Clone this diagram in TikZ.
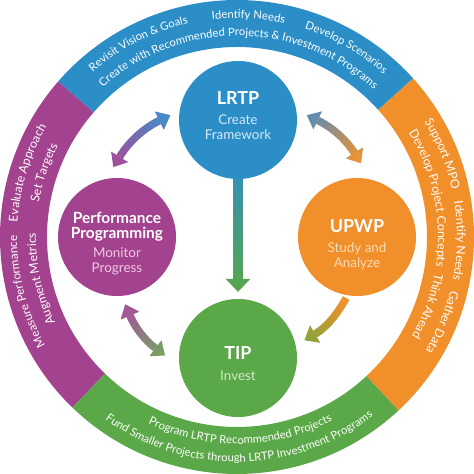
\documentclass[tikz,border=0pt]{standalone}
\usepackage{fontspec}
\setmainfont{Lato}
\setsansfont{Lato}
\usetikzlibrary{arrows.meta,decorations.text,fadings,calc}

\definecolor{blueC}{RGB}{43,142,198}
\definecolor{orangeC}{RGB}{241,143,42}
\definecolor{greenC}{RGB}{90,168,71}
\definecolor{magC}{RGB}{163,66,143}
\definecolor{createC}{RGB}{214,234,246}
\definecolor{monitorC}{RGB}{240,200,228}
\definecolor{studyC}{RGB}{252,221,180}
\definecolor{investC}{RGB}{210,232,200}
\definecolor{ulA}{RGB}{160,80,155}
\definecolor{ulB}{RGB}{70,140,200}
\definecolor{urA}{RGB}{100,140,175}
\definecolor{urB}{RGB}{236,148,50}
\definecolor{lrA}{RGB}{240,145,45}
\definecolor{lrB}{RGB}{140,165,60}
\definecolor{llA}{RGB}{120,160,100}
\definecolor{llB}{RGB}{165,85,155}
\definecolor{stemA}{RGB}{55,145,180}
\definecolor{stemB}{RGB}{90,168,71}

\def\rsize{11}
\newcommand\ringfnt{\fontsize{\rsize}{13}\selectfont}
\newcommand\ringcw[4]{\path[decorate, decoration={text along path, text align=center, text color=white, text={|\ringfnt|#4}}]
  ([shift={({#1+#3}:#2)}]hub) arc[start angle={#1+#3}, end angle={#1-#3}, radius=#2];}
\newcommand\ringccw[4]{\path[decorate, decoration={text along path, text align=center, text color=white, text={|\ringfnt|#4}}]
  ([shift={({#1-#3}:#2)}]hub) arc[start angle={#1-#3}, end angle={#1+#3}, radius=#2];}
\newcommand\ringseg[3]{\fill[#3] ([shift={(#1:237)}]hub) arc[start angle=#1, end angle=#2, radius=237]
  -- ([shift={(#2:190)}]hub) arc[start angle=#2, end angle=#1, radius=190] -- cycle;}
\newcommand\gconn[4]{\draw[#1] #4; \draw[#2, path fading=east, fading angle=#3] #4;}

\tikzset{
  hubcircle/.style={circle, minimum size=118bp, inner sep=0pt},
  title/.style={anchor=base, text=white, font=\fontsize{18}{20}\selectfont\bfseries, inner sep=0pt},
  ptitle/.style={anchor=base, text=white, font=\fontsize{15.5}{17}\selectfont\bfseries, inner sep=0pt},
  sub/.style={anchor=base, font=\fontsize{13.5}{15}\selectfont, inner sep=0pt},
  conn/.style={line width=7.5bp, {Triangle[width=20bp,length=12bp,line width=0pt]}-{Triangle[width=20bp,length=12bp,line width=0pt]}},
  conn1/.style={line width=7.5bp, -{Triangle[width=20bp,length=12bp,line width=0pt]}},
  stem/.style={line width=10bp, -{Triangle[width=25bp,length=13bp,line width=0pt]}},
}

\begin{document}
\begin{tikzpicture}[x=1bp,y=1bp]
\useasboundingbox (-237,-237) rectangle (237,237);
\coordinate (hub) at (0,0);

% ring
\ringseg{42}{139}{blueC}
\ringseg{139}{226}{magC}
\ringseg{226}{313}{greenC}
\ringseg{313}{402}{orangeC}

% ring texts: top
\def\rsize{11.3}
\ringcw{117}{219}{25}{Revisit Vision {\&} Goals}
\ringcw{87}{219}{18}{Identify Needs}
\ringcw{60}{219}{22}{Develop Scenarios}
\ringcw{89.5}{201}{60}{Create with Recommended Projects {\&} Investment Programs}
% right
\def\rsize{12.2}
\ringcw{22}{220}{20}{Support MPO}
\ringcw{-1}{220}{22}{Identify Needs}
\ringcw{-22.5}{220}{20}{Gather Data}
\ringcw{11.5}{201}{30}{Develop Project Concepts}
\ringcw{-20}{201}{20}{Think Ahead}
% left
\ringcw{163}{220}{25}{Evaluate Approach}
\ringcw{161.5}{201}{20}{Set Targets}
\ringcw{192}{201}{24}{Augment Metrics}
\def\rsize{11.8}
\ringcw{194.5}{220}{28}{Measure Performance}
% bottom
\def\rsize{11.3}
\ringccw{271}{207}{40}{Program LRTP Recommended Projects}
\ringccw{270.7}{225}{50}{Fund Smaller Projects through LRTP Investment Programs}

% circles
\node[hubcircle, fill=blueC] (lrtp) at (1,117) {};
\node[hubcircle, fill=magC] (perf) at (-120,0) {};
\node[hubcircle, fill=orangeC] (upwp) at (120,0) {};
\node[hubcircle, fill=greenC] (tip) at (1,-121) {};

% texts
\node[title] (lrtpT) at ($(lrtp)+(0,15)$) {LRTP};
\node[sub, text=createC] (lrtpS1) at ($(lrtp)+(0,-5)$) {Create};
\node[sub, text=createC] (lrtpS2) at ($(lrtp)+(0,-20)$) {Framework};
\node[ptitle] (perfT1) at ($(perf)+(0,13)$) {Performance};
\node[ptitle] (perfT2) at ($(perf)+(0,-2)$) {Programming};
\node[sub, text=monitorC] (perfS1) at ($(perf)+(0,-21)$) {Monitor};
\node[sub, text=monitorC] (perfS2) at ($(perf)+(0,-36)$) {Progress};
\node[title] (upwpT) at ($(upwp)+(0,4)$) {UPWP};
\node[sub, text=studyC] (upwpS1) at ($(upwp)+(0,-16)$) {Study and};
\node[sub, text=studyC] (upwpS2) at ($(upwp)+(0,-31)$) {Analyze};
\node[title] (tipT) at ($(tip)+(0,-2)$) {TIP};
\node[sub, text=investC] (tipS) at ($(tip)+(0,-22)$) {Invest};

% connectors
\gconn{conn, draw=ulA}{conn, draw=ulB}{222}{($(perf)+(93:70)$) to[bend left=16] ($(lrtp)+(176:68)$)}
\gconn{conn, draw=urA}{conn, draw=urB}{137}{($(lrtp)+(4:69)$) to[bend left=16] ($(upwp)+(87:74)$)}
\gconn{conn1, draw=lrA}{conn1, draw=lrB}{45}{($(upwp)+(-100:62)$) to[bend left=15] ($(tip)+(15:69)$)}
\gconn{conn, draw=llA}{conn, draw=llB}{-51}{($(tip)+(178:73)$) to[bend left=15] ($(perf)+(-83:68)$)}
\draw[stem, draw=stemB] (lrtp.south) -- ($(tip.north)+(0,7)$);
\draw[stem, draw=stemA, path fading=south] (lrtp.south) -- ($(tip.north)+(0,7)$);
\end{tikzpicture}
\end{document}
